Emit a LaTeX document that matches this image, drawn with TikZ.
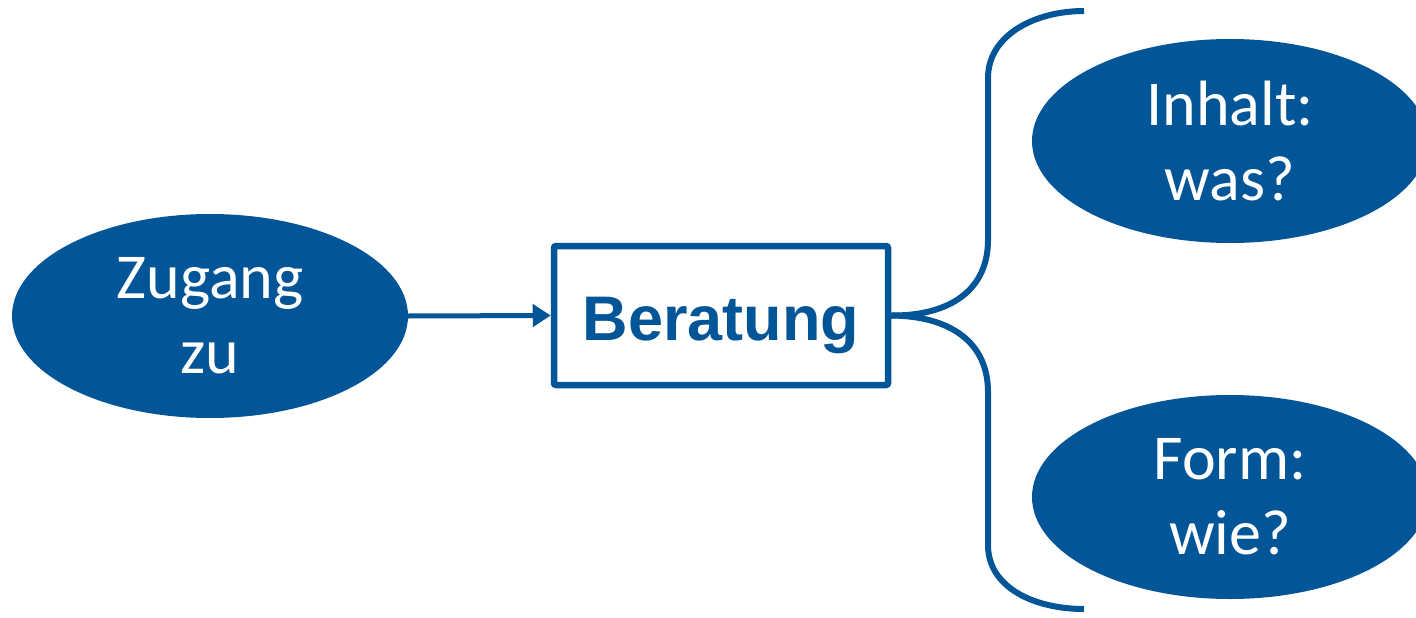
\documentclass[tikz,border=0pt]{standalone}
\usepackage{fontspec}
\setmainfont{Carlito}
\newfontfamily\boldsans{Liberation Sans}
\usetikzlibrary{shapes.geometric,arrows.meta}
\definecolor{deepblue}{RGB}{2,85,151}
\tikzset{
  x=1pt, y=-1pt,
  blob/.style={ellipse, fill=deepblue, text=white, inner sep=0pt,
    minimum width=396pt, minimum height=204pt, align=center,
    font=\fontsize{64}{75}\selectfont},
  frame/.style={draw=deepblue, line width=6.5pt, rounded corners=2pt,
    fill=white, text=deepblue,
    minimum width=334pt, minimum height=139pt, inner sep=0pt,
    text height=49pt, text depth=0pt,
    font=\boldsans\bfseries\fontsize{63}{70}\selectfont},
  link/.style={draw=deepblue, line width=6pt},
}
\begin{document}
\begin{tikzpicture}
\useasboundingbox (0,0) rectangle (1416,618);

\node[blob] (zugang) at (210,316) {Zugang\\zu};
\node[frame] (beratung) at (721,315.5) {Beratung};
\node[blob] (inhalt) at (1230,141) {Inhalt:\\was?};
\node[blob] (form) at (1230,497) {Form:\\wie?};

\draw[link, line width=5pt, -{Triangle[length=18pt,width=22pt]}] (zugang.east) -- (beratung.west);

% curly bracket opening towards the two questions
\coordinate (btop) at (1084,11);
\coordinate (bbot) at (1084,609);
\draw[link] (beratung.east) .. controls (950,316) and (988,290) .. (988,240)
  -- (988,78) .. controls (988,35) and (1035,11) .. (btop);
\draw[link] (beratung.east) .. controls (950,316) and (988,342) .. (988,392)
  -- (988,545) .. controls (988,588) and (1035,609) .. (bbot);
\end{tikzpicture}
\end{document}
